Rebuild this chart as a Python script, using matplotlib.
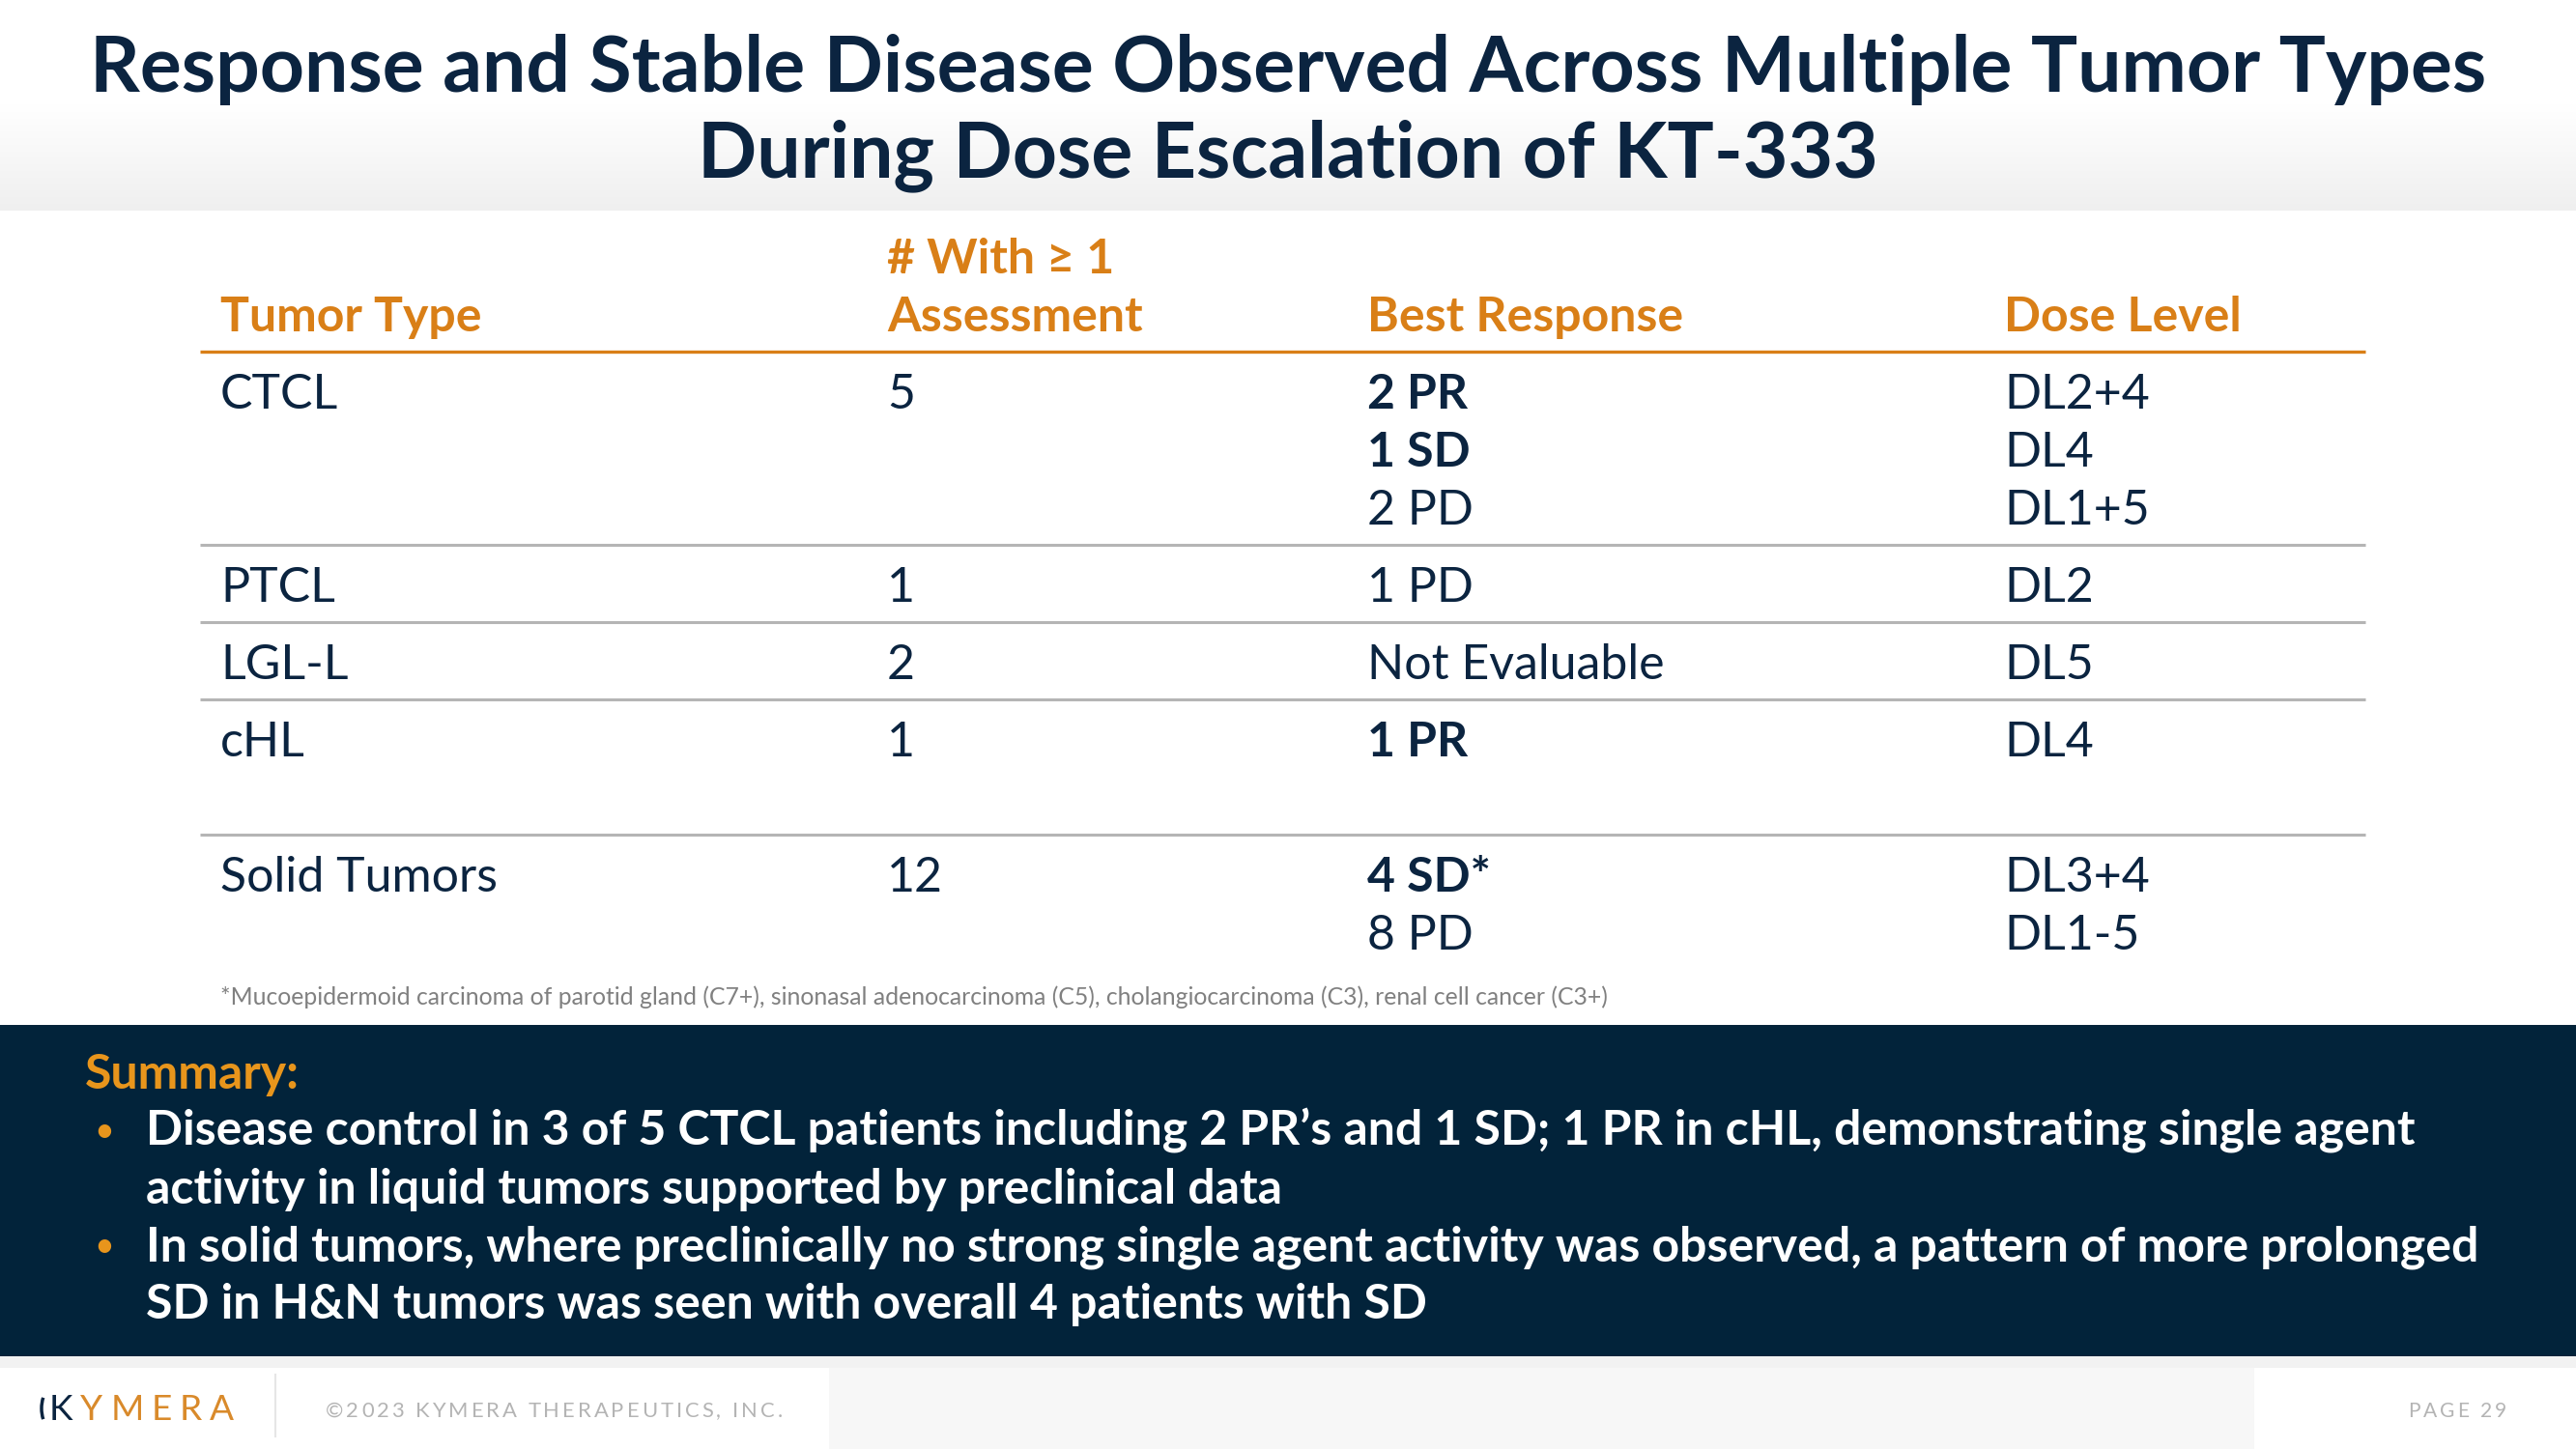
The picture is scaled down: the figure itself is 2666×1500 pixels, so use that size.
import matplotlib
matplotlib.use("Agg")
import matplotlib.pyplot as plt
import numpy as np
from matplotlib.colors import LinearSegmentedColormap
from matplotlib.patches import Rectangle, Arc

plt.rcParams['font.family'] = ['Lato', 'DejaVu Sans']

# ---- data ----
title_lines = ["Response and Stable Disease Observed Across Multiple Tumor Types",
               "During Dose Escalation of KT-333"]
headers = [["Tumor Type"], ["# With \u2265 1", "Assessment"], ["Best Response"], ["Dose Level"]]
tumor_types = ["CTCL", "PTCL", "LGL-L", "cHL", "Solid Tumors"]
n_assessed = [5, 1, 2, 1, 12]
best_response = [["2 PR", "1 SD", "2 PD"], ["1 PD"], ["Not Evaluable"], ["1 PR"], ["4 SD*", "8 PD"]]
response_bold = [[True, True, False], [False], [False], [True], [True, False]]
dose_levels = [["DL2+4", "DL4", "DL1+5"], ["DL2"], ["DL5"], ["DL4"], ["DL3+4", "DL1-5"]]
footnote = ("*Mucoepidermoid carcinoma of parotid gland (C7+), sinonasal adenocarcinoma (C5), "
            "cholangiocarcinoma (C3), renal cell cancer (C3+)")
summary_title = "Summary:"
summary_bullets = [
    ["Disease control in 3 of 5 CTCL patients including 2 PR\u2019s and 1 SD; 1 PR in cHL, demonstrating single agent",
     "activity in liquid tumors supported by preclinical data"],
    ["In solid tumors, where preclinically no strong single agent activity was observed, a pattern of more prolonged",
     "SD in H&N tumors was seen with overall 4 patients with SD"],
]
copyright_text = "\u00a92023 KYMERA THERAPEUTICS, INC."
page_text = "PAGE 29"

# ---- style ----
W, H = 2666, 1500
NAVY = '#0b2440'
BOX = '#02233a'
ORANGE = '#d97f17'
ORANGE2 = '#e8951c'
GREY_LINE = '#b5b5b5'

def pt(px):
    return px * 0.72

fig = plt.figure(figsize=(W / 100, H / 100), dpi=100)
ax = fig.add_axes([0, 0, 1, 1])

# title band gradient
grad = LinearSegmentedColormap.from_list('g', ['#ffffff', '#ffffff', '#efefef'])
ax.imshow(np.linspace(0, 1, 256)[:, None], extent=(0, W, 218, 0), cmap=grad,
          aspect='auto', origin='upper', zorder=0)
ax.set_xlim(0, W)
ax.set_ylim(H, 0)
ax.axis('off')

for i, line in enumerate(title_lines):
    ax.text(W / 2, 95 + 88 * i, line, ha='center', va='baseline',
            fontsize=pt(80.5), fontweight='bold', color=NAVY)

# ---- table ----
col_x = [228, 918, 1415, 2074]
tbl_left, tbl_right = 207, 2448
fs_tbl = pt(50)

for cx, hdr in zip(col_x, headers):
    for k, h in enumerate(reversed(hdr)):
        ax.text(cx, 343 - 60 * k, h, ha='left', va='baseline', fontsize=fs_tbl,
                fontweight='bold', color=ORANGE)
ax.plot([tbl_left, tbl_right], [364, 364], color=ORANGE, lw=2.4, solid_capstyle='butt')

row_extra = [0, 0, 0, 60, 0]
y = 364
for i, tt in enumerate(tumor_types):
    base = y + 59
    ax.text(col_x[0], base, tt, va='baseline', fontsize=fs_tbl, color=NAVY)
    ax.text(col_x[1], base, str(n_assessed[i]), va='baseline', fontsize=fs_tbl, color=NAVY)
    for k, (r, b) in enumerate(zip(best_response[i], response_bold[i])):
        ax.text(col_x[2], base + 60 * k, r, va='baseline', fontsize=fs_tbl, color=NAVY,
                fontweight='bold' if b else 'normal')
    for k, d in enumerate(dose_levels[i]):
        ax.text(col_x[3], base + 60 * k, d, va='baseline', fontsize=fs_tbl, color=NAVY)
    y = y + 80 + 60 * (len(best_response[i]) - 1) + row_extra[i]
    if i < len(tumor_types) - 1:
        ax.plot([tbl_left, tbl_right], [y, y], color=GREY_LINE, lw=2.2, solid_capstyle='butt')

ax.text(228, 1040, footnote, va='baseline', fontsize=pt(24.8), color='#808080')

# ---- summary box ----
ax.add_patch(Rectangle((0, 1061), W, 343, facecolor=BOX, edgecolor='none', zorder=1))
ax.text(88, 1127, summary_title, va='baseline', fontsize=fs_tbl, fontweight='bold',
        color=ORANGE2, zorder=2)
yb = 1186
for bullet in summary_bullets:
    ax.text(97, yb - 4, "\u2022", va='baseline', ha='left', fontsize=pt(36), color=ORANGE2, zorder=2)
    for line in bullet:
        ax.text(151, yb, line, va='baseline', fontsize=fs_tbl, fontweight='bold',
                color='white', zorder=2)
        yb += 59.7

# ---- footer ----
ax.add_patch(Rectangle((0, 1404), W, 12, facecolor='#f2f2f2', edgecolor='none', zorder=1))
ax.add_patch(Rectangle((858, 1416), 2333 - 858, 84, facecolor='#f7f7f7', edgecolor='none', zorder=1))
ax.plot([285, 285], [1423, 1487], color='#e6e6e6', lw=1.5, zorder=2)

renderer = fig.canvas.get_renderer()

def spaced_text(x, y, s, gap, **kw):
    probe = ax.text(0, 0, '.', **kw)
    dot_w = probe.get_window_extent(renderer).width
    probe.remove()
    for i, ch in enumerate(s):
        if ch == ' ':
            continue
        if i > 0:
            t = ax.text(0, 0, s[:i] + '.', **kw)
            off = t.get_window_extent(renderer).width - dot_w
            t.remove()
        else:
            off = 0
        ax.text(x + off + gap * i, y, ch, va='baseline', zorder=3, **kw)

# logo
ax.add_patch(Arc((58, 1458), 30, 48, theta1=140, theta2=220, color=NAVY, lw=2.5, zorder=3))
spaced_text(51, 1470, "K", 0, fontsize=pt(37), fontweight='normal', color=NAVY)
spaced_text(83, 1470, "YMERA", 8, fontsize=pt(37), fontweight='normal', color='#d98a2b')

spaced_text(337, 1467, copyright_text, 3, fontsize=pt(22), color='#b4b4b4')
spaced_text(2492, 1467, page_text, 3, fontsize=pt(21), color='#b4b4b4')

fig.savefig('out.png', dpi=100)
